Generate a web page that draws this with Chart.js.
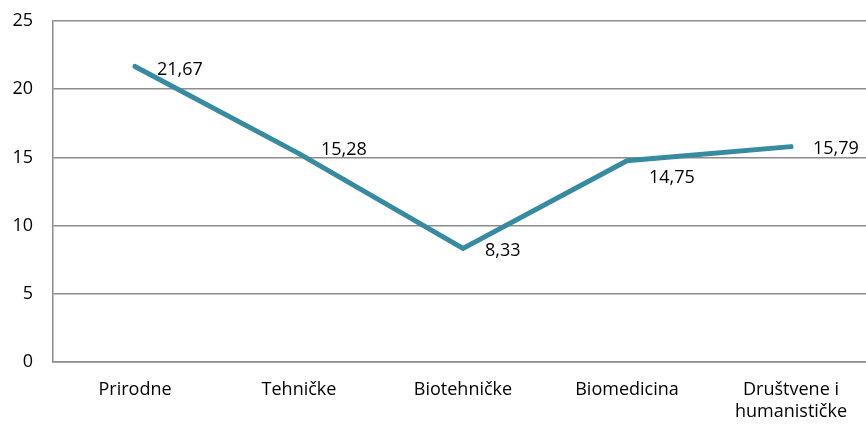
<!DOCTYPE html>
<html>
<head>
<meta charset="utf-8">
<script src="https://cdn.jsdelivr.net/npm/chart.js@4/dist/chart.umd.min.js"></script>
<style>
  html, body { margin: 0; padding: 0; background: #fff; overflow: hidden; }
  #wrap { width: 873px; height: 425px; position: relative; }
</style>
</head>
<body>
<div id="wrap"><canvas id="c" width="873" height="425"></canvas></div>
<script>
const categories = ['Prirodne', 'Tehničke', 'Biotehničke', 'Biomedicina', ['Društvene i', 'humanističke']];
const values = [21.67, 15.28, 8.33, 14.75, 15.79];
const valueLabels = ['21,67', '15,28', '8,33', '14,75', '15,79'];
const yTicks = [0, 5, 10, 15, 20, 25];

const FONT = '"Open Sans", "Noto Sans", sans-serif';

const labelPlugin = {
  id: 'valueLabels',
  afterDatasetsDraw(chart, args, opts) {
    const ctx = chart.ctx;
    const meta = chart.getDatasetMeta(0);
    ctx.save();
    ctx.font = opts.size + 'px ' + FONT;
    ctx.fillStyle = '#000';
    ctx.textAlign = 'left';
    ctx.textBaseline = 'middle';
    meta.data.forEach((pt, i) => {
      const nudge = opts.nudgeY[i] || 0;
      ctx.fillText(valueLabels[i], pt.x + opts.dx, pt.y + nudge + 1.8);
    });
    ctx.restore();
  }
};

new Chart(document.getElementById('c'), {
  type: 'line',
  data: {
    labels: categories,
    datasets: [{
      data: values,
      borderColor: '#378BA1',
      borderWidth: 5,
      borderCapStyle: 'round',
      borderJoinStyle: 'miter',
      pointRadius: 0,
      pointHoverRadius: 0,
      tension: 0,
      fill: false
    }]
  },
  options: {
    responsive: false,
    animation: false,
    events: [],
    layout: { padding: { top: 21, left: 0, right: 0, bottom: 0 } },
    plugins: {
      legend: { display: false },
      tooltip: { enabled: false },
      valueLabels: { dx: 22, size: 18, nudgeY: [1.5, -5.6, 0.5, 15, 0] }
    },
    scales: {
      x: {
        offset: true,
        afterFit(scale) { scale.height = 63; scale.paddingLeft = 0; scale.paddingRight = 0; },
        grid: { display: false, drawTicks: false, offset: true },
        border: { display: true, color: '#8c8c8c', width: 1.5 },
        ticks: {
          color: '#000',
          font: { family: FONT, size: 18 },
          padding: 17,
          maxRotation: 0,
          autoSkip: false
        }
      },
      y: {
        min: 0,
        max: 25,
        afterFit(scale) { scale.width = 53; scale.paddingTop = 0; scale.paddingBottom = 0; },
        afterBuildTicks(scale) { scale.ticks = yTicks.map(v => ({ value: v })); },
        grid: { color: '#8c8c8c', lineWidth: 1.5, drawTicks: false },
        border: { display: true, color: '#8c8c8c', width: 1.5 },
        ticks: {
          color: '#000',
          font: { family: FONT, size: 18 },
          padding: 20
        }
      }
    }
  },
  plugins: [labelPlugin]
});
</script>
</body>
</html>
